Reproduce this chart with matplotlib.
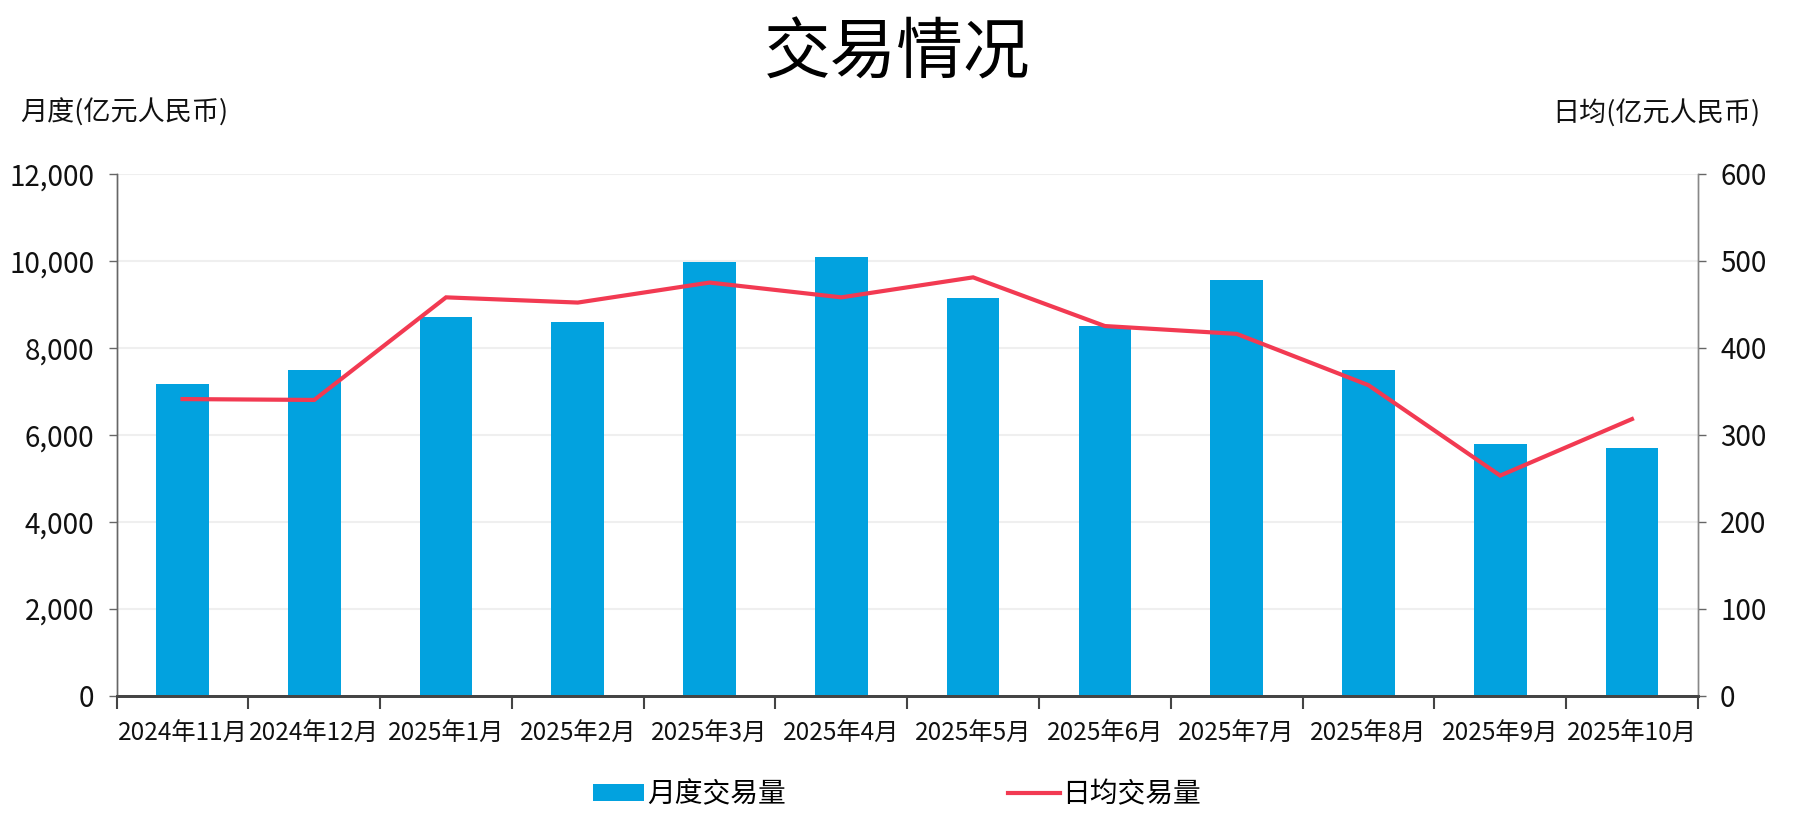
import matplotlib
matplotlib.use("Agg")
import matplotlib.pyplot as plt
import numpy as np
from matplotlib.ticker import FuncFormatter, FixedLocator, NullFormatter

plt.rcParams['font.family'] = ['Noto Sans CJK SC', 'DejaVu Sans']

months = ["2024年11月", "2024年12月", "2025年1月", "2025年2月", "2025年3月", "2025年4月",
          "2025年5月", "2025年6月", "2025年7月", "2025年8月", "2025年9月", "2025年10月"]
monthly_volume = [7165, 7485, 8705, 8590, 9970, 10085, 9150, 8505, 9560, 7485, 5785, 5695]
daily_avg = [341, 340, 458, 452, 475, 458, 481, 425, 416, 357, 253, 318]

bar_color = "#02A2DF"
line_color = "#F23A52"
grid_color = "#EFEFEF"
text_color = "#111111"

fig = plt.figure(figsize=(17.94, 8.36), dpi=100)
ax = fig.add_axes([0.065, 0.168, 0.8814, 0.624])
ax2 = ax.twinx()

x = np.arange(len(months))
bars = ax.bar(x, monthly_volume, width=0.4, color=bar_color, zorder=2, label="月度交易量")
line, = ax2.plot(x, daily_avg, color=line_color, lw=3, zorder=3, label="日均交易量",
                 solid_joinstyle='miter')

ax.set_xlim(-0.5, len(months) - 0.5)
ax.set_ylim(0, 12000)
ax2.set_ylim(0, 600)
ax.set_yticks(np.arange(0, 12001, 2000))
ax2.set_yticks(np.arange(0, 601, 100))
ax.yaxis.set_major_formatter(FuncFormatter(lambda v, p: f"{int(v):,}"))

ax.grid(axis='y', color=grid_color, lw=1.5, zorder=0)
ax.set_axisbelow(True)

# x ticks at category boundaries, labels at centers
ax.xaxis.set_major_locator(FixedLocator(np.arange(-0.5, len(months), 1.0)))
ax.xaxis.set_major_formatter(NullFormatter())
ax.xaxis.set_minor_locator(FixedLocator(x))
ax.set_xticklabels(months, minor=True)
ax.tick_params(axis='x', which='major', length=9, width=1.5, color='#444444', direction='out')
ax.tick_params(axis='x', which='minor', length=0, pad=18, labelsize=17.5, labelcolor=text_color)

ax.tick_params(axis='y', length=6, width=1, color='#666666', pad=10, labelsize=20, labelcolor=text_color)
ax2.tick_params(axis='y', length=6, width=1, color='#666666', pad=10, labelsize=20, labelcolor=text_color)

for a in (ax, ax2):
    a.spines['top'].set_visible(False)
    a.spines['left'].set_color('#666666')
    a.spines['right'].set_color('#888888')
    a.spines['left'].set_linewidth(1)
    a.spines['right'].set_linewidth(1)
    a.spines['bottom'].set_color('#444444')
    a.spines['bottom'].set_linewidth(2)

fig.text(0.5, 0.935, "交易情况", ha='center', va='center', fontsize=48, color='#000000')
fig.text(0.011, 0.865, "月度(亿元人民币)", ha='left', va='center', fontsize=19.5, color=text_color)
fig.text(0.981, 0.865, "日均(亿元人民币)", ha='right', va='center', fontsize=19.5, color=text_color)

fig.legend(handles=[bars, line], labels=["月度交易量", "日均交易量"], loc='center',
           bbox_to_anchor=(0.5, 0.05), ncol=2, frameon=False, fontsize=20,
           columnspacing=8.0, handlelength=1.85, handletextpad=0.1, handleheight=0.55)

fig.savefig("out.png", dpi=100)
